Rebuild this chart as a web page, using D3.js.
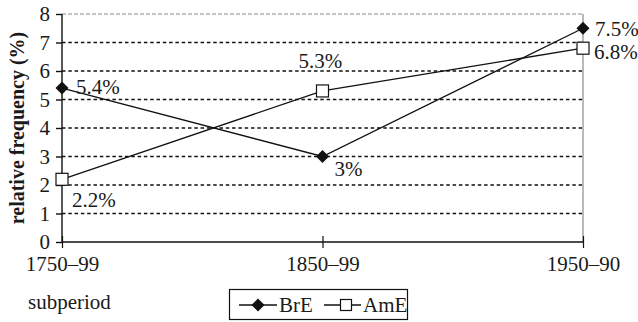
<!DOCTYPE html>
<html>
<head>
<meta charset="utf-8">
<script src="https://cdn.jsdelivr.net/npm/d3@7"></script>
<style>
  html, body { margin: 0; padding: 0; background: #fff; }
  svg { display: block; }
</style>
</head>
<body>
<svg id="chart" width="638" height="322"></svg>
<script>
// Subperiods on the x axis
const subperiods = ["1750–99", "1850–99", "1950–90"];
// Relative frequency (%) per subperiod
const brE = [5.4, 3, 7.5];
const amE = [2.2, 5.3, 6.8];
// Value labels printed beside each point
const brELabels = ["5.4%", "3%", "7.5%"];
const amELabels = ["2.2%", "5.3%", "6.8%"];
const yTicks = [0, 1, 2, 3, 4, 5, 6, 7, 8];

const labelFont = "'Liberation Serif', serif";
const svg = d3.select("#chart");
const plotLeft = 62, plotRight = 583, plotTop = 14, plotBottom = 242;

const x = d3.scalePoint().domain(subperiods).range([plotLeft, plotRight]);
const y = d3.scaleLinear().domain([0, 8]).range([plotBottom, plotTop]);

// Dotted horizontal gridlines
svg.append("g").selectAll("line")
  .data(yTicks.filter(d => d > 0 && d < 8))
  .join("line")
  .attr("x1", plotLeft).attr("x2", plotRight)
  .attr("y1", d => y(d)).attr("y2", d => y(d))
  .attr("stroke", "#111").attr("stroke-width", 1.6)
  .attr("stroke-dasharray", "3.5,2.8");

// Top and right frame of the plot area
svg.append("line")
  .attr("x1", plotLeft).attr("x2", plotRight).attr("y1", y(8)).attr("y2", y(8))
  .attr("stroke", "#8a8a8a").attr("stroke-width", 1.2).attr("stroke-dasharray", "4,2");
svg.append("line")
  .attr("x1", plotRight).attr("x2", plotRight).attr("y1", y(8)).attr("y2", y(0))
  .attr("stroke", "#8a8a8a").attr("stroke-width", 1.2);

// Y axis
const yAxis = svg.append("g")
  .attr("transform", `translate(${plotLeft},0)`)
  .call(d3.axisLeft(y).tickValues(yTicks).tickFormat(d3.format("d")).tickSize(6).tickPadding(6));
yAxis.select(".domain").attr("stroke", "#111").attr("stroke-width", 1.4).attr("d", `M0,${plotTop}V${plotBottom}`);
yAxis.selectAll(".tick line").attr("stroke", "#111").attr("stroke-width", 1.4);

// X axis with ticks crossing the baseline
const xAxis = svg.append("g")
  .attr("transform", `translate(0,${plotBottom})`)
  .call(d3.axisBottom(x).tickSize(6).tickPadding(8));
xAxis.select(".domain").attr("stroke", "#111").attr("stroke-width", 1.4).attr("d", `M${plotLeft},0H${plotRight}`);
xAxis.selectAll(".tick line").attr("stroke", "#111").attr("stroke-width", 1.2).attr("y1", -6).attr("y2", 6);

// Y axis title
svg.append("text")
  .attr("class", "bold")
  .attr("transform", `translate(24,${(plotTop + plotBottom) / 2}) rotate(-90)`)
  .attr("text-anchor", "middle")
  .text("relative frequency (%)");

// X axis title
svg.append("text")
  .attr("x", 28).attr("y", 309)
  .text("subperiod");

const line = d3.line().x((d, i) => x(subperiods[i])).y(d => y(d));

// Series lines
svg.append("path").datum(brE).attr("d", line)
  .attr("fill", "none").attr("stroke", "#111").attr("stroke-width", 1.3);
svg.append("path").datum(amE).attr("d", line)
  .attr("fill", "none").attr("stroke", "#111").attr("stroke-width", 1.3);

const diamond = d3.symbol().type(d3.symbolSquare).size(85);

// BrE markers
svg.append("g").selectAll("path")
  .data(brE).join("path")
  .attr("d", diamond)
  .attr("transform", (d, i) => `translate(${x(subperiods[i])},${y(d)}) rotate(45)`)
  .attr("fill", "#111");

// AmE markers
const sq = 12;
svg.append("g").selectAll("rect")
  .data(amE).join("rect")
  .attr("x", (d, i) => x(subperiods[i]) - sq / 2)
  .attr("y", d => y(d) - sq / 2)
  .attr("width", sq).attr("height", sq)
  .attr("fill", "#fff").attr("stroke", "#111").attr("stroke-width", 1.2);

// Value labels
const brEOffsets = [[14, 6], [12, 19], [12, 8]];
const amEOffsets = [[10, 28], [-24, -23], [11, 11]];
svg.append("g").selectAll("text")
  .data(brE).join("text")
  .attr("x", (d, i) => x(subperiods[i]) + brEOffsets[i][0])
  .attr("y", (d, i) => y(d) + brEOffsets[i][1])
  .text((d, i) => brELabels[i]);
svg.append("g").selectAll("text")
  .data(amE).join("text")
  .attr("x", (d, i) => x(subperiods[i]) + amEOffsets[i][0])
  .attr("y", (d, i) => y(d) + amEOffsets[i][1])
  .text((d, i) => amELabels[i]);

// Legend
const lg = svg.append("g");
lg.append("rect")
  .attr("x", 229.5).attr("y", 289.5).attr("width", 178).attr("height", 30)
  .attr("fill", "#fff").attr("stroke", "#111").attr("stroke-width", 1.2);
lg.append("line").attr("x1", 239).attr("x2", 277).attr("y1", 305).attr("y2", 305)
  .attr("stroke", "#111").attr("stroke-width", 1.3);
lg.append("path").attr("d", diamond)
  .attr("transform", "translate(258,305) rotate(45)").attr("fill", "#111");
lg.append("text").attr("x", 279).attr("y", 312).text("BrE");
lg.append("line").attr("x1", 324).attr("x2", 361).attr("y1", 305).attr("y2", 305)
  .attr("stroke", "#111").attr("stroke-width", 1.3);
lg.append("rect").attr("x", 340.5).attr("y", 299.5).attr("width", 11).attr("height", 11)
  .attr("fill", "#fff").attr("stroke", "#111").attr("stroke-width", 1.2);
lg.append("text").attr("x", 363).attr("y", 312).text("AmE");

// Shared serif type for every label
svg.selectAll("text")
  .style("font-family", labelFont, "important")
  .style("font-size", "21px", "important")
  .style("fill", "#1a1a1a", "important");
svg.selectAll("text.bold")
  .style("font-size", "20px", "important")
  .style("font-weight", "bold", "important");
</script>
</body>
</html>
